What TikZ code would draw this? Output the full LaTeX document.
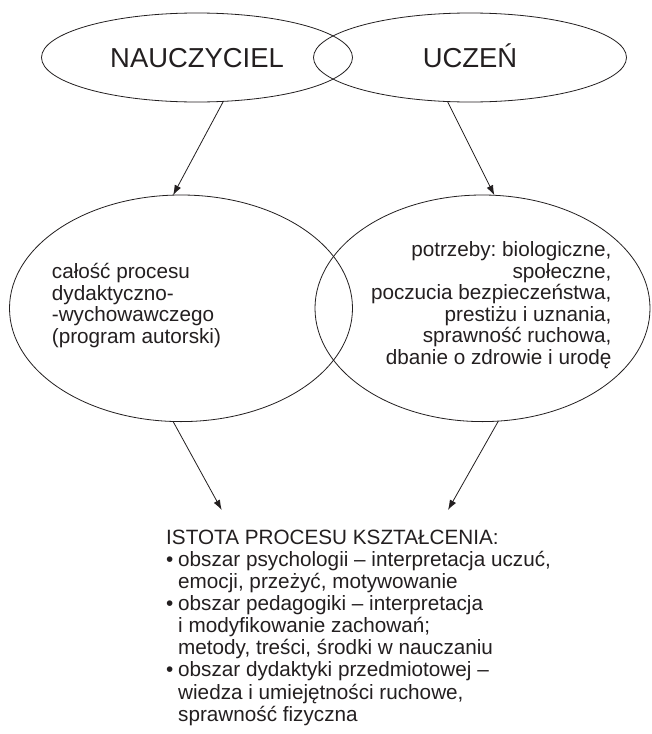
\documentclass[tikz,border=0pt]{standalone}
\usepackage{fontspec}
\setmainfont{Liberation Sans}
\usetikzlibrary{shapes.geometric,arrows.meta}
\definecolor{ink}{HTML}{231F20}
\newcommand\bulit{\makebox[12pt][l]{•}}
\newcommand\indt{\hspace*{12pt}}
\frenchspacing
\begin{document}
\begin{tikzpicture}[x=1pt,y=-1pt,
  oval/.style={draw=ink,ellipse,line width=0.8pt,inner sep=0pt,outer sep=0pt},
  arr/.style={draw=ink,line width=0.8pt,-{Latex[length=10pt,width=7pt]}},
  bigtxt/.style={text=ink,font=\fontsize{27.4}{30}\selectfont,text height=19.6pt,text depth=0pt},
  txt/.style={text=ink,inner sep=0pt,font=\fontsize{20.7}{21.5}\selectfont},
]
\useasboundingbox[fill=white] (0,0) rectangle (651,734);
\node[oval,bigtxt,minimum width=311pt,minimum height=89pt] (N) at (197,57.5) {NAUCZYCIEL};
\node[oval,bigtxt,minimum width=313pt,minimum height=89pt] (U) at (470,57.5) {UCZEŃ};
\node[oval,minimum width=343pt,minimum height=226.6pt] (L) at (181,308.3) {};
\node[oval,minimum width=335pt,minimum height=226.6pt] (R) at (482.5,308.3) {};
% base anchor of a multi-line node = baseline of its last line
\node[txt,align=left,anchor=base west] (Ltxt) at (51.7,343) {całość procesu\\dydaktyczno-\\-wychowawczego\\(program autorski)};
\node[txt,align=right,anchor=base east] (Rtxt) at (611.7,364.25) {potrzeby: biologiczne,\\społeczne,\\poczucia bezpieczeństwa,\\prestiżu i uznania,\\sprawność ruchowa,\\dbanie o zdrowie i urodę};
\node[txt,font=\fontsize{20.7}{22.1}\selectfont,align=left,anchor=base west] (B) at (166,721.1) {ISTOTA PROCESU KSZTAŁCENIA:\\
\bulit obszar psychologii – interpretacja uczuć,\\
\indt emocji, przeżyć, motywowanie\\
\bulit obszar pedagogiki – interpretacja\\
\indt i modyfikowanie zachowań;\\
\indt metody, treści, środki w nauczaniu\\
\bulit obszar dydaktyki przedmiotowej –\\
\indt wiedza i umiejętności ruchowe,\\
\indt sprawność fizyczna};
\coordinate (t3) at (221.7,510);
\coordinate (t4) at (448,510);
\draw[arr] (N.-59) -- (L.94);
\draw[arr] (U.-117) -- (R.84);
\draw[arr] (L.-94) -- (t3);
\draw[arr] (R.-82) -- (t4);
\end{tikzpicture}
\end{document}
